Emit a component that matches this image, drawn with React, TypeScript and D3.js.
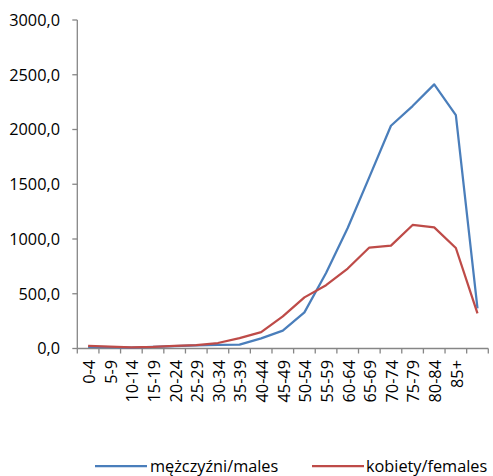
import React from "react";
import * as d3 from "d3";

const categories = ["0-4","5-9","10-14","15-19","20-24","25-29","30-34","35-39","40-44","45-49","50-54","55-59","60-64","65-69","70-74","75-79","80-84","85+",""];
const males = [15, 12, 8, 14, 22, 28, 33, 35, 93, 163, 330, 690, 1100, 1565, 2034, 2214, 2412, 2132, 367];
const females = [25, 18, 10, 15, 25, 30, 50, 95, 150, 293, 467, 578, 730, 922, 940, 1128, 1106, 918, 321];
const yTicks = [0, 500, 1000, 1500, 2000, 2500, 3000];
const seriesNames = ["mężczyźni/males", "kobiety/females"];

const W = 493, H = 476;
const FONT = "'Open Sans', 'Liberation Sans', sans-serif";
const FS = 16.3;
const axisColor = "#868686";
const colors = ["#4A7EBB", "#BE4B48"];

export default function App() {
  const x0 = 77.3, x1 = 488.3, yTop = 20, yBot = 348.5;
  const xBand = d3.scaleBand<string>().domain(categories.map((c, i) => String(i))).range([x0, x1]).padding(0);
  const xc = (i: number) => (xBand(String(i)) as number) + xBand.bandwidth() / 2;
  const y = d3.scaleLinear().domain([0, 3000]).range([yBot, yTop]);
  const line = d3.line<number>().x((_, i) => xc(i)).y((d) => y(d));
  const data = [males, females];
  const boundaries = d3.range(categories.length + 1).map((k) => x0 + k * xBand.step());

  return (
    <svg width={W} height={H} style={{ position: "absolute", left: 0, top: 0, background: "#fff" }} fontFamily={FONT}>
      {/* y axis */}
      <line x1={x0} x2={x0} y1={yTop} y2={yBot} stroke={axisColor} strokeWidth={1.3} />
      {yTicks.map((t) => (
        <g key={t}>
          <line x1={x0 - 5} x2={x0} y1={y(t)} y2={y(t)} stroke={axisColor} strokeWidth={1.3} />
          <text x={60} y={y(t)} dy="0.36em" textAnchor="end" fontSize={FS} fill="#000">
            {d3.format(".1f")(t).replace(".", ",")}
          </text>
        </g>
      ))}
      {/* x axis */}
      <line x1={x0} x2={x1} y1={yBot} y2={yBot} stroke={axisColor} strokeWidth={1.3} />
      {boundaries.map((b, k) => (
        <line key={k} x1={b} x2={b} y1={yBot} y2={yBot + 5} stroke={axisColor} strokeWidth={1.3} />
      ))}
      {categories.map((c, i) => (
        <text key={i} transform={`translate(${xc(i)},360) rotate(-90)`} dy="0.42em" textAnchor="end" fontSize={FS} fill="#000">
          {c}
        </text>
      ))}
      {/* series */}
      {data.map((s, k) => (
        <path key={k} d={line(s) as string} fill="none" stroke={colors[k]} strokeWidth={2.25} strokeLinejoin="round" />
      ))}
      {/* legend */}
      {[{ lx: 95, tx: 150 }, { lx: 312, tx: 366 }].map((p, k) => (
        <g key={k}>
          <line x1={p.lx} x2={p.lx + 52} y1={466} y2={466} stroke={colors[k]} strokeWidth={2.25} />
          <text x={p.tx} y={466} dy="0.36em" fontSize={FS} fill="#000">{seriesNames[k]}</text>
        </g>
      ))}
    </svg>
  );
}
